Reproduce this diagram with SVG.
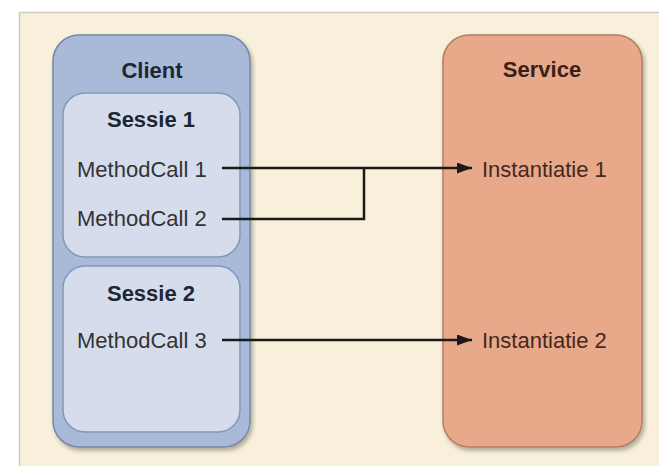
<svg xmlns="http://www.w3.org/2000/svg" width="659" height="466" viewBox="0 0 659 466">
<defs>
<marker id="arr" markerWidth="15" markerHeight="11" refX="15" refY="5.5" orient="auto" markerUnits="userSpaceOnUse">
<path d="M0,0 L15,5.5 L0,11 Z" fill="#1a1a1a"/>
</marker>
<filter id="sh" x="-10%" y="-10%" width="130%" height="130%">
<feGaussianBlur in="SourceAlpha" stdDeviation="2"/>
<feOffset dx="2" dy="3"/>
<feComponentTransfer><feFuncA type="linear" slope="0.3"/></feComponentTransfer>
<feMerge><feMergeNode/><feMergeNode in="SourceGraphic"/></feMerge>
</filter>
</defs>
<style>
.t{font-family:"Liberation Sans",Arial,sans-serif;font-size:22px;fill:#333333}
.b{font-weight:bold;fill:#1f2633}
.c{stroke:#1a1a1a;stroke-width:2.5;fill:none}
</style>
<rect x="0" y="0" width="659" height="466" fill="#ffffff"/>
<rect x="19.5" y="12.5" width="645" height="460" fill="#f8f0da" stroke="#cfcbc0" stroke-width="1.5"/>
<g id="client">
<rect x="53" y="35" width="197" height="412" rx="26" fill="#a9bad8" stroke="#7487aa" stroke-width="1.5" filter="url(#sh)"/>
<text class="t b" x="152" y="78" text-anchor="middle">Client</text>
</g>
<g id="sessie1">
<rect x="63" y="93" width="177" height="164" rx="22" fill="#d5ddec" stroke="#8596b6" stroke-width="1.5"/>
<text class="t b" x="151" y="127" text-anchor="middle">Sessie 1</text>
<text class="t" x="77" y="177">MethodCall 1</text>
<text class="t" x="77" y="226">MethodCall 2</text>
</g>
<g id="sessie2">
<rect x="63" y="266" width="177" height="166" rx="22" fill="#d5ddec" stroke="#8596b6" stroke-width="1.5"/>
<text class="t b" x="151" y="301" text-anchor="middle">Sessie 2</text>
<text class="t" x="77" y="348">MethodCall 3</text>
</g>
<g id="service">
<rect x="443" y="35" width="199" height="412" rx="26" fill="#e8a98a" stroke="#b27e66" stroke-width="1.5" filter="url(#sh)"/>
<text class="t b" x="542" y="77" text-anchor="middle" style="fill:#3a2117">Service</text>
<text class="t" x="482" y="177" style="fill:#45281e">Instantiatie 1</text>
<text class="t" x="482" y="348" style="fill:#45281e">Instantiatie 2</text>
</g>
<g id="connectors">
<path class="c" d="M222,168 L472,168" marker-end="url(#arr)"/>
<path class="c" d="M222,219 L364,219 L364,168"/>
<path class="c" d="M222,340 L472,340" marker-end="url(#arr)"/>
</g>
</svg>
